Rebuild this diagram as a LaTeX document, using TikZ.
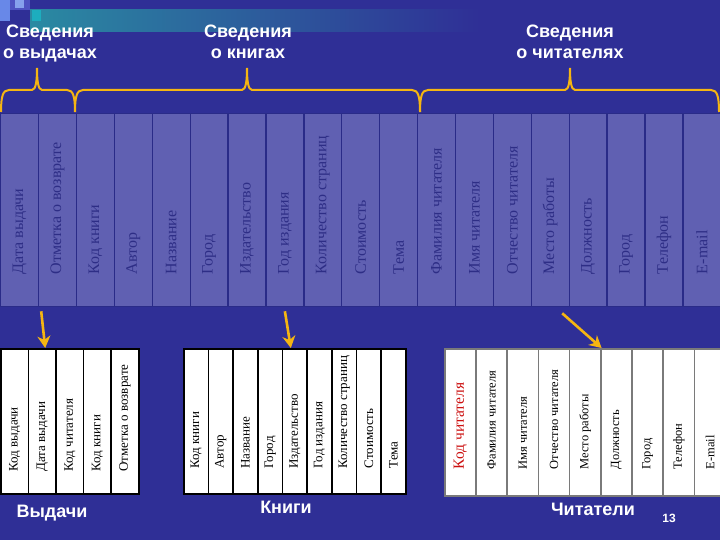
\documentclass[tikz,border=0pt]{standalone}
\usepackage{fontspec}
\setmainfont{Liberation Serif}
\setsansfont{Liberation Sans}
\usetikzlibrary{positioning,arrows.meta,calc}
\definecolor{cSlide}   {HTML}{2F2F96}
\definecolor{cField}   {HTML}{6060B2}
\definecolor{cFieldLn} {HTML}{2A2B88}
\definecolor{cFieldTxt}{HTML}{2E2E86}
\definecolor{cBrace}   {HTML}{F5B512}
\definecolor{cBand}    {HTML}{2A8AA2}
\definecolor{cSqA}     {HTML}{6888E8}
\definecolor{cSqB}     {HTML}{4E52C2}
\definecolor{cKey}     {HTML}{CC1010}
\definecolor{cRule}    {HTML}{7A7A7A}
\tikzset{
  >={Stealth[length=12pt,width=13pt]},
  fieldcol/.style={draw=cFieldLn,fill=cField,line width=1.3pt,inner sep=0pt,
                   minimum width=37.9pt,minimum height=193pt},
  fieldtxt/.style={rotate=90,anchor=west,inner sep=0pt,text=cFieldTxt,
                   font=\fontsize{16}{18}\selectfont},
  tabcol/.style={draw=black,fill=white,line width=1.6pt,inner sep=0pt,
                 minimum height=145pt},
  tabtxt/.style={rotate=90,anchor=west,inner sep=0pt,
                 font=\fontsize{13}{15}\selectfont},
  grouplbl/.style={text=white,align=center,inner sep=0pt,
                   font=\sffamily\bfseries\fontsize{18}{21}\selectfont},
  tablbl/.style={text=white,anchor=base,inner sep=0pt,
                 font=\sffamily\bfseries\fontsize{18}{20}\selectfont},
  pickarr/.style={->,cBrace,line width=2.6pt},
  bracelin/.style={cBrace,line width=2pt},
}
\begin{document}
\begin{tikzpicture}[x=1pt,y=-1pt]
  \useasboundingbox (0,0) rectangle (720,540);
  \clip (0,0) rectangle (720,540);
  \fill[cSlide] (0,0) rectangle (720,540);
  % slide decoration
  \shade[left color=cBand,right color=cSlide] (30,10) rectangle (480,32);
  \fill[cSqB] (10,0) rectangle (30,10);
  \fill[cSqA] (0,0) rectangle (10,21);
  \fill[cSqA!80!white] (15,0) rectangle (24,8);
  \fill[cBand!70!cyan] (32,10) rectangle (41,21);

  % group labels and braces
  \node[grouplbl] (gvyd) at (50,43.5) {Сведения\\о выдачах};
  \node[grouplbl] (gkn)  at (248,42) {Сведения\\о книгах};
  \node[grouplbl] (gch)  at (570,42) {Сведения\\о читателях};
  \foreach \a/\m/\b in {1/37/75,75/247/420,420/570/719}
    \draw[bracelin] (\a,112) .. controls (\a,96) and (\a+2,90) .. (\a+8,90)
      -- (\m-5,90) .. controls (\m-1,90) and (\m,80) .. (\m,68)
      .. controls (\m,80) and (\m+1,90) .. (\m+5,90)
      -- (\b-8,90) .. controls (\b-2,90) and (\b,96) .. (\b,112);

  % all fields
  \foreach \lbl [count=\i] in {Дата выдачи,Отметка о возврате,Код книги,Автор,
      Название,Город,Издательство,Год издания,Количество страниц,Стоимость,Тема,
      Фамилия читателя,Имя читателя,Отчество читателя,Место работы,Должность,
      Город,Телефон,E-mail}{
    \node[fieldcol,anchor=north west] (top\i) at ({(\i-1)*37.9},113) {};
    \node[fieldtxt] (toptxt\i) at ($(top\i.south)+(0,-33)$) {\lbl};
  }

  % table Выдачи
  \foreach \lbl [count=\i] in {Код выдачи,Дата выдачи,Код читателя,Код книги,
      Отметка о возврате}{
    \node[tabcol,minimum width=27.6pt,anchor=north west] (vyd\i) at ({(\i-1)*27.6},348) {};
    \node[tabtxt] (vydtxt\i) at ($(vyd\i.south)+(0,-23)$) {\lbl};
  }
  \node[tablbl] (lvyd) at (52,517) {Выдачи};

  % table Книги
  \foreach \lbl [count=\i] in {Код книги,Автор,Название,Город,Издательство,
      Год издания,Количество страниц,Стоимость,Тема}{
    \node[tabcol,minimum width=24.67pt,anchor=north west] (kn\i) at ({183+(\i-1)*24.67},348) {};
    \node[tabtxt] (kntxt\i) at ($(kn\i.south)+(0,-26)$) {\lbl};
  }
  \node[tablbl] (lkn) at (286,513) {Книги};

  % table Читатели
  \foreach \lbl [count=\i] in {Фамилия читателя,Имя читателя,Отчество читателя,
      Место работы,Должность,Город,Телефон,E-mail}{
    \node[tabcol,draw=cRule,minimum width=31.2pt,minimum height=147pt,anchor=north west]
      (ch\i) at ({475.2+(\i-1)*31.2},348) {};
    \node[tabtxt,font=\fontsize{12.5}{14}\selectfont] (chtxt\i) at ($(ch\i.south)+(0,-27)$) {\lbl};
  }
  \node[tabcol,draw=cRule,minimum width=31.2pt,minimum height=147pt,anchor=north west]
    (chkey) at (444,348) {};
  \node[tabtxt,text=cKey,font=\fontsize{15.5}{17}\selectfont] (chkeytxt)
    at ($(chkey.south)+(0,-27)$) {Код читателя};
  \node[tablbl] (lch) at (593,515) {Читатели};
  \node[tablbl,font=\sffamily\bfseries\fontsize{12}{14}\selectfont] (pgno) at (669,522) {13};

  % arrows
  \draw[pickarr] ($(top1.south east)+(2,4)$) -- ($(vyd2.north)+(3,0)$);
  \draw[pickarr] ($(top8.south)+(0,4)$) -- ($(kn5.north)+(-4,0)$);
  \draw[pickarr] ($(top15.south)+(12,6)$) -- (ch4.north east);
\end{tikzpicture}
\end{document}
